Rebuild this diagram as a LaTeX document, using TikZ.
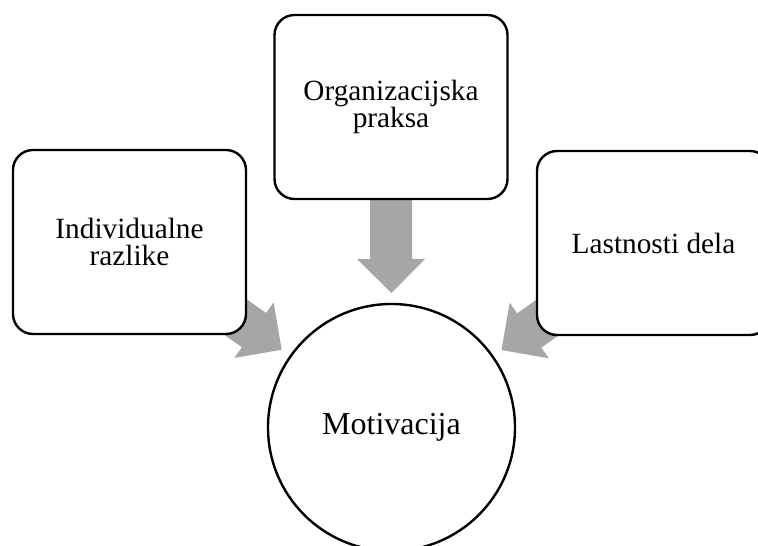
\documentclass[tikz,border=0pt]{standalone}
\usepackage{fontspec}
\setmainfont{Liberation Serif}
\usepackage{tikz}
\usetikzlibrary{calc,backgrounds}
\definecolor{arrowgray}{RGB}{166,166,166}

% block arrow: #1 = box it leaves, #2 = coordinate of its tip
\newcommand{\convarrow}[2]{%
\fill[arrowgray] let \p1=($(#2)-(#1.center)$), \n1={atan2(\y1,\x1)} in
  ([shift={(#2)},rotate=\n1]0,0) -- ([shift={(#2)},rotate=\n1]-34,34)
  -- ([shift={(#2)},rotate=\n1]-34,21) -- ([shift={(#2)},rotate=\n1]-94,21)
  -- ([shift={(#2)},rotate=\n1]-94,-21) -- ([shift={(#2)},rotate=\n1]-34,-21)
  -- ([shift={(#2)},rotate=\n1]-34,-34) -- cycle;}

\begin{document}
\begin{tikzpicture}[line cap=round,line join=round,x=0.5pt,y=0.5pt,
  box/.style={draw,line width=1.2pt,rounded corners=10pt,fill=white,align=center,
    minimum width=116.5pt,minimum height=92pt,inner sep=0pt,
    font=\fontsize{14.65}{13.85}\selectfont},
  circ/.style={draw,line width=1.2pt,circle,fill=white,minimum size=123.5pt,
    inner sep=0pt,font=\fontsize{16}{18}\selectfont}]
\useasboundingbox (0,0) rectangle (758,545);
\clip (0,0) rectangle (758,545);

\node[box] (indiv) at (129.5,303) {Individualne\\razlike};
\node[box] (org) at (391,438) {Organizacijska\\praksa};
\node[box] (lastn) at (653.5,302) {Lastnosti dela};
\node[circ] (motiv) at (391.5,117.5) {Motivacija};

\coordinate (tipindiv) at ($(motiv.center)!67.25pt!(indiv.center)$);
\coordinate (tiporg) at ($(motiv.center)!67.25pt!(org.center)$);
\coordinate (tiplastn) at ($(motiv.center)!67.25pt!(lastn.center)$);

\begin{scope}[on background layer]
\convarrow{indiv}{tipindiv}
\convarrow{org}{tiporg}
\convarrow{lastn}{tiplastn}
\end{scope}
\end{tikzpicture}
\end{document}
